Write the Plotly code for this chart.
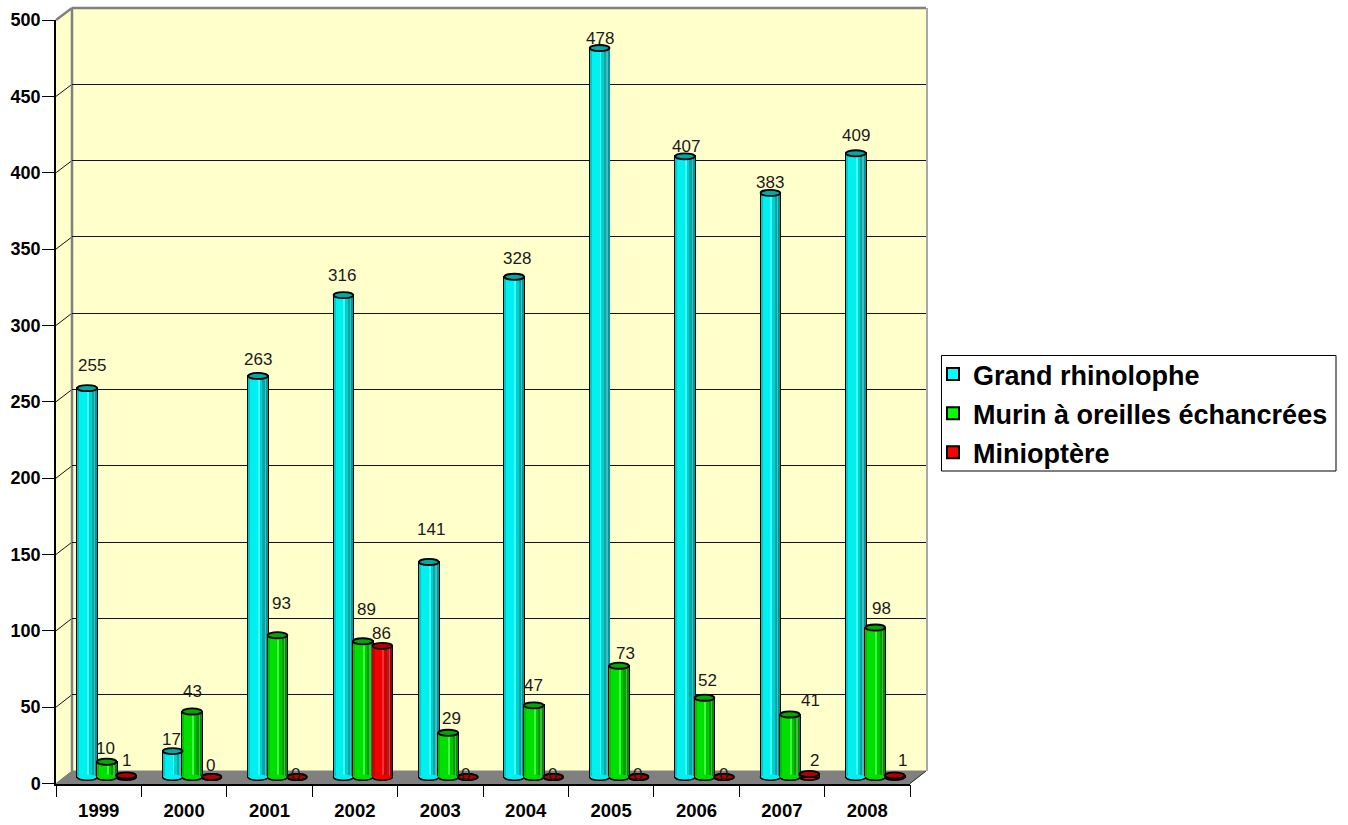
import plotly.graph_objects as go

years = ["1999", "2000", "2001", "2002", "2003", "2004", "2005", "2006", "2007", "2008"]
grand_rhinolophe = [255, 17, 263, 316, 141, 328, 478, 407, 383, 409]
murin = [10, 43, 93, 89, 29, 47, 73, 52, 41, 98]
minioptere = [1, 0, 0, 86, 0, 0, 0, 0, 2, 1]
y_ticks = [0, 50, 100, 150, 200, 250, 300, 350, 400, 450, 500]

W, H = 1348, 825
FONT = "Liberation Sans, Arial, sans-serif"


def fx(p):
    return p / W


def fy(p):
    return 1 - p / H


# Pseudo-3D frame in pixels: front plane, mid plane (bars) and back wall
FRONT = dict(l=56, r=910, b=783.5, t=20)
BACK = dict(l=72, r=926, b=771, t=8)
BAR = dict(l=64, r=918, zero=777.0, top500=14.5)
scale = (BAR["zero"] - BAR["top500"]) / 500
BAR_RANGE = (-6, 505)
bar_b = BAR["zero"] - BAR_RANGE[0] * scale
bar_t = BAR["zero"] - BAR_RANGE[1] * scale

series = [
    dict(name="Grand rhinolophe", y=grand_rhinolophe, off=-0.228, main="#00FFFF", top="#00A8A8",
         strips=[(0.02, 0.10, "#00C8C8"), (0.10, 0.52, "#00F0F0"), (0.52, 0.62, "#3CFFFF"),
                 (0.62, 0.72, "#00D0D0"), (0.72, 0.86, "#00A8A8"), (0.86, 0.93, "#50B8B8"),
                 (0.93, 0.98, "#009898")],
         dx=[5, -1, 0, -1, 2, 3, 0, 1, 0, 0],
         dy=[23, 12, 16, 20, 32, 18, 10, 10, 10, 18]),
    dict(name="Murin à oreilles échancrées", y=murin, off=0.0, main="#00FF00", top="#00A800",
         strips=[(0.02, 0.10, "#00C000"), (0.10, 0.52, "#00E000"), (0.52, 0.62, "#40F840"),
                 (0.62, 0.72, "#00C800"), (0.72, 0.86, "#00A000"), (0.86, 0.93, "#50B050"),
                 (0.93, 0.98, "#009000")],
         dx=[-1, 0, 4, 4, 3, 0, 6, 3, 21, 6],
         dy=[13, 20, 32, 32, 14, 20, 12, 17, 14, 19]),
    dict(name="Minioptère", y=minioptere, off=0.228, main="#FF0000", top="#B00000",
         strips=[(0.02, 0.10, "#C80000"), (0.10, 0.52, "#F00000"), (0.52, 0.62, "#F83030"),
                 (0.62, 0.72, "#D00000"), (0.72, 0.86, "#B02020"), (0.86, 0.93, "#C05050"),
                 (0.93, 0.98, "#A00000")],
         dx=[0, -1, -1, -1, -2, -1, -1, 0, 5, 8],
         dy=[15, 12, 3, 12, 3, 3, 3, 3, 13, 15]),
]
BAR_W = 0.23
ELL = 2.0

fig = go.Figure()
positions = list(range(len(years)))

shapes = []
# walls and floor
def poly(pts, fill, line, lw=1):
    path = "M" + " L".join(f"{fx(x):.5f},{fy(y):.5f}" for x, y in pts) + " Z"
    shapes.append(dict(type="path", path=path, xref="paper", yref="paper", layer="below",
                       fillcolor=fill, line=dict(color=line, width=lw)))


poly([(BACK["l"], BACK["t"]), (BACK["r"], BACK["t"]), (BACK["r"], BACK["b"]), (BACK["l"], BACK["b"])],
     "#FFFFCC", "rgba(0,0,0,0)", 0)
poly([(FRONT["l"], FRONT["t"]), (BACK["l"], BACK["t"]), (BACK["l"], BACK["b"]), (FRONT["l"], FRONT["b"])],
     "#FFFFCC", "rgba(0,0,0,0)", 0)
poly([(FRONT["l"], FRONT["b"]), (BACK["l"], BACK["b"]), (BACK["r"], BACK["b"]), (FRONT["r"], FRONT["b"])],
     "#808080", "#808080", 1)
# legend frame
poly([(941.5, 355.5), (1336, 355.5), (1336, 471), (941.5, 471)], "#FFFFFF", "#000000", 1)


def seg(a, b, color, w):
    shapes.append(dict(type="line", xref="paper", yref="paper", layer="below",
                       x0=fx(a[0]), y0=fy(a[1]), x1=fx(b[0]), y1=fy(b[1]),
                       line=dict(color=color, width=w)))


for v in y_ticks[1:-1]:
    fp = FRONT["b"] - (FRONT["b"] - FRONT["t"]) * v / 500
    bp = BACK["b"] - (BACK["b"] - BACK["t"]) * v / 500
    seg((FRONT["l"], fp), (BACK["l"], bp), "#111111", 1)

seg((FRONT["l"], FRONT["t"]), (BACK["l"], BACK["t"]), "#808080", 2.5)
seg((BACK["l"], BACK["t"]), (BACK["r"], BACK["t"]), "#808080", 2.5)
seg((BACK["l"], BACK["t"]), (BACK["l"], BACK["b"]), "#808080", 2.5)
seg((BACK["r"] + 1, BACK["t"]), (BACK["r"] + 1, BACK["b"]), "#A8A8A8", 2)
seg((FRONT["r"], FRONT["b"]), (BACK["r"], BACK["b"]), "#333333", 1)

# back-wall grid: axes x / y; front axes: x2 / y2; bars: x3 / y3
fig.add_trace(go.Scatter(x=[-0.5, 9.5], y=[0, 500], xaxis="x", yaxis="y", mode="lines",
                         line=dict(width=0), showlegend=False, hoverinfo="skip"))
fig.add_trace(go.Scatter(x=years, y=grand_rhinolophe, xaxis="x2", yaxis="y2", mode="lines",
                         line=dict(width=0), opacity=0, showlegend=False, hoverinfo="skip"))

annotations = []
for k, s in enumerate(series):
    xs = [p + s["off"] for p in positions]
    fig.add_trace(go.Bar(x=xs, y=s["y"], width=BAR_W, xaxis="x3", yaxis="y3", name=s["name"],
                         marker=dict(color=s["main"], line=dict(color="#000000", width=2)),
                         legendgroup=s["name"]))
    for f0, f1, col in s["strips"]:
        fig.add_trace(go.Bar(x=[x + BAR_W * ((f0 + f1) / 2 - 0.5) for x in xs], y=s["y"],
                             width=BAR_W * (f1 - f0), xaxis="x3", yaxis="y3", showlegend=False,
                             marker=dict(color=col, line=dict(width=0)),
                             legendgroup=s["name"], hoverinfo="skip"))
    for i, (x, v) in enumerate(zip(xs, s["y"])):
        common = dict(type="circle", xref="x3", yref="y3",
                      x0=x - BAR_W / 2, x1=x + BAR_W / 2, line=dict(color="#000000", width=1.8))
        shapes.append(dict(common, y0=-ELL, y1=ELL, layer="below", fillcolor=s["main"]))
        if v > 3:
            # hide the flat foot of the bar so its base reads as the curve of a cylinder
            shapes.append(dict(type="circle", xref="x3", yref="y3", layer="above",
                               x0=x - BAR_W * 0.47, x1=x + BAR_W * 0.47, y0=-ELL * 0.8, y1=ELL * 0.8,
                               fillcolor=s["strips"][1][2], line=dict(width=0)))
        shapes.append(dict(common, y0=v - ELL, y1=v + ELL, layer="above", fillcolor=s["top"]))
        annotations.append(dict(x=x, y=v, xref="x3", yref="y3", text=str(v), showarrow=False,
                                xanchor="center", yanchor="middle", xshift=s["dx"][i], yshift=s["dy"][i],
                                font=dict(family=FONT, size=17, color="#1a1a1a")))

fig.update_layout(
    width=W, height=H, autosize=False,
    margin=dict(l=0, r=0, t=0, b=0, pad=0),
    paper_bgcolor="#FFFFFF", plot_bgcolor="rgba(0,0,0,0)",
    barmode="overlay", bargap=0, showlegend=True,
    shapes=shapes, annotations=annotations,
    hovermode=False,
    legend=dict(x=fx(941), y=fy(350), xanchor="left", yanchor="top",
                bgcolor="rgba(0,0,0,0)", borderwidth=0,
                font=dict(family=FONT, size=27, color="#000000", weight=700),
                indentation=-8, entrywidth=362, entrywidthmode="pixels",
                traceorder="grouped", tracegroupgap=1, itemclick=False, itemdoubleclick=False),
    xaxis=dict(domain=[fx(BACK["l"]), fx(BACK["r"])], range=[-0.5, 9.5], anchor="y", automargin=False,
               visible=False, showgrid=False, zeroline=False, fixedrange=True),
    yaxis=dict(domain=[fy(BACK["b"]), fy(BACK["t"])], range=[0, 500], anchor="x", automargin=False,
               tickmode="array", tickvals=y_ticks[1:-1], showticklabels=False, ticks="",
               showgrid=True, gridcolor="#111111", gridwidth=1, zeroline=False,
               showline=False, fixedrange=True),
    xaxis2=dict(domain=[fx(FRONT["l"]), fx(FRONT["r"])], type="category", categoryorder="array",
                categoryarray=years, range=[-0.5, 9.5], anchor="y2", tickson="boundaries", automargin=False,
                ticks="outside", ticklen=12, tickcolor="#000000", tickwidth=1, ticklabelstandoff=10,
                showline=True, linecolor="#000000", linewidth=1.5, showgrid=False, zeroline=False,
                tickfont=dict(family=FONT, size=18.5, color="#000000", weight=700), fixedrange=True),
    yaxis2=dict(domain=[fy(FRONT["b"]), fy(FRONT["t"])], range=[0, 500], anchor="x2", automargin=False,
                tickmode="array", tickvals=y_ticks, ticks="outside", ticklen=12, ticklabelstandoff=-2,
                tickcolor="#000000", tickwidth=1.2, showline=True, linecolor="#000000", linewidth=1.5,
                showgrid=False, zeroline=False,
                tickfont=dict(family=FONT, size=18, color="#000000", weight=700), fixedrange=True),
    xaxis3=dict(domain=[fx(BAR["l"]), fx(BAR["r"])], range=[-0.5, 9.5], anchor="y3", automargin=False,
                visible=False, showgrid=False, zeroline=False, fixedrange=True),
    yaxis3=dict(domain=[fy(bar_b), fy(bar_t)], range=list(BAR_RANGE), anchor="x3", automargin=False,
                visible=False, showgrid=False, zeroline=False, fixedrange=True),
)

fig.write_html("out.html", config=dict(displayModeBar=False),
               post_script="document.body.style.margin='0';")
